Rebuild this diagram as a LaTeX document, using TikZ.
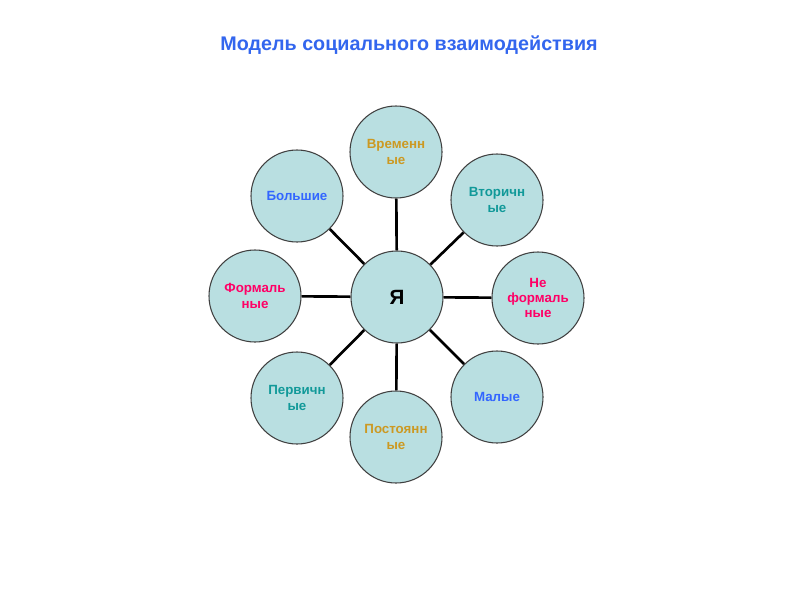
\documentclass[tikz,border=0pt]{standalone}
\usepackage{fontspec}
\setmainfont{Liberation Sans}
\definecolor{cfill}{HTML}{B9DFE1}
\definecolor{cedge}{HTML}{404040}
\definecolor{ctitle}{HTML}{3366EE}
\definecolor{cgold}{HTML}{CC9922}
\definecolor{cteal}{HTML}{119999}
\definecolor{cblue}{HTML}{3366FF}
\definecolor{cpink}{HTML}{FF0066}
\tikzset{
  bubble/.style={circle, draw=cedge, line width=0.8pt, fill=cfill, minimum size=69pt, inner sep=0pt,
    align=center, font=\bfseries\fontsize{10}{11.5}\selectfont},
  link/.style={line width=2pt, draw=black}
}
\begin{document}
\begin{tikzpicture}[x=0.75pt,y=-0.75pt]
\useasboundingbox (0,0) rectangle (800,600);
\fill[white] (0,0) rectangle (800,600);
\node[font=\bfseries\fontsize{14.8}{17}\selectfont, text=ctitle] (title) at (409,45) {Модель социального взаимодействия};
\node[bubble, font=\bfseries\fontsize{15.5}{18}\selectfont] (me) at (397,297) {Я};
\node[bubble, text=cgold] (vrem) at (396,152) {Временн\\ые};
\node[bubble, text=cblue] (bolsh) at (297,196) {Большие};
\node[bubble, text=cteal] (vtor) at (497,200) {Вторичн\\ые};
\node[bubble, text=cpink] (form) at (255,296) {Формаль\\ные};
\node[bubble, text=cpink] (neform) at (538,298) {Не\\формаль\\ные};
\node[bubble, text=cteal] (perv) at (297,398) {Первичн\\ые};
\node[bubble, text=cgold] (post) at (396,437) {Постоянн\\ые};
\node[bubble, text=cblue] (mal) at (497,397) {Малые};
\foreach \n in {vrem,bolsh,vtor,form,neform,perv,post,mal}{
  \draw[link] (me) -- (\n);
}
\end{tikzpicture}
\end{document}
